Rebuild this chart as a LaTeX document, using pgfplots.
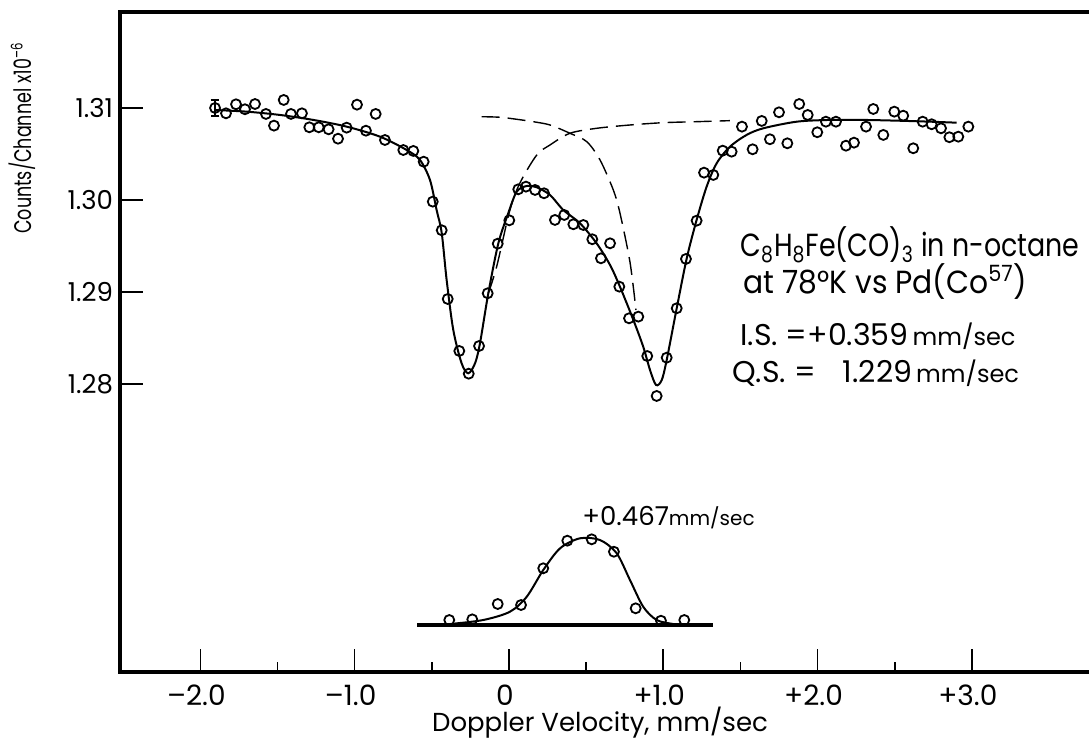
\documentclass[border=0pt]{standalone}
\usepackage{fontspec}
\setmainfont{Poppins}
\newfontfamily\narrowA[FakeStretch=0.84]{Poppins}
\newfontfamily\narrowC[FakeStretch=0.93]{Poppins}
\newfontfamily\narrowB[FakeStretch=0.73]{Poppins}
\usepackage{pgfplots}
\pgfplotsset{compat=1.18}
\begin{document}
\begin{tikzpicture}
\path[use as bounding box] (0,0) rectangle (544.5pt,369.5pt);
\begin{axis}[
  at={(60pt,33.5pt)}, anchor=south west,
  scale only axis, width=484.5pt, height=330pt,
  xmin=-2.521, xmax=3.759, ymin=1.2487, ymax=1.32043,
  clip=false,
  axis line style={draw=none},
  tick align=inside, tick pos=left,
  xtick={-2,-1,0,1,2,3},
  xticklabels={–2.0,–1.0,0,+1.0,+2.0,+3.0},
  minor xtick={-1.5,-0.5,0.5,1.5,2.5},
  ytick={1.28,1.29,1.30,1.31},
  yticklabels={1.28,1.29,1.30,1.31},
  major tick length=11.5pt, minor tick length=5pt,
  every tick/.style={black, line width=0.8pt},
  yticklabel style={font=\fontsize{13}{15}\selectfont},
  xticklabel style={font=\fontsize{14}{16}\selectfont, yshift=-3pt, xshift=-2pt},
  xlabel={Doppler Velocity, mm/sec},
  ylabel={Counts/Channel x10\textsuperscript{–6}},
  xlabel style={at={(rel axis cs:0.4954,-0.0770)}, anchor=center, inner sep=0pt,
    font=\fontsize{13}{15}\selectfont},
  ylabel style={at={(rel axis cs:-0.10114,0.809)}, anchor=center, inner sep=0pt,
    font=\narrowB\fontsize{12}{14}\selectfont},
]
% measured points, main spectrum
\addplot[only marks, mark=o, mark size=2.5pt, mark options={line width=0.9pt}] coordinates {
(-1.834,1.30942) (-1.769,1.31040) (-1.711,1.30986) (-1.646,1.31043) (-1.575,1.30935)
(-1.523,1.30808) (-1.460,1.31087) (-1.413,1.30935) (-1.342,1.30942) (-1.294,1.30790)
(-1.233,1.30790) (-1.169,1.30768) (-1.108,1.30666) (-1.052,1.30786) (-0.985,1.31036)
(-0.927,1.30753) (-0.864,1.30935) (-0.804,1.30652) (-0.685,1.30543) (-0.620,1.30533)
(-0.553,1.30416) (-0.494,1.29982) (-0.436,1.29671) (-0.397,1.28924) (-0.322,1.28359)
(-0.261,1.28112) (-0.194,1.28413) (-0.138,1.28986) (-0.073,1.29525) (0.002,1.29779)
(0.060,1.30116) (0.110,1.30145) (0.169,1.30109) (0.227,1.30073) (0.298,1.29783)
(0.358,1.29837) (0.417,1.29736) (0.482,1.29728) (0.540,1.29573) (0.596,1.29366)
(0.655,1.29529) (0.715,1.29058) (0.778,1.28714) (0.838,1.28732) (0.896,1.28304)
(0.957,1.27870) (1.022,1.28286) (1.087,1.28823) (1.147,1.29359) (1.216,1.29775)
(1.264,1.30297) (1.324,1.30272) (1.385,1.30536) (1.443,1.30525) (1.510,1.30797)
(1.579,1.30551) (1.638,1.30859) (1.691,1.30660) (1.750,1.30953) (1.804,1.30616)
(1.881,1.31043) (1.936,1.30924) (1.998,1.30736) (2.054,1.30851) (2.119,1.30851)
(2.184,1.30590) (2.236,1.30623) (2.314,1.30797) (2.361,1.30989) (2.426,1.30707)
(2.497,1.30960) (2.555,1.30916) (2.620,1.30562) (2.681,1.30851) (2.739,1.30823)
(2.800,1.30779) (2.854,1.30682) (2.912,1.30688) (2.977,1.30797)
};
% first point with error bar
\addplot[black, only marks, mark=o, mark size=2.5pt, mark options={line width=0.9pt},
  error bars/.cd, y dir=both, y explicit,
  error bar style={line width=0.9pt},
  error mark options={rotate=90, mark size=2.2pt, line width=0.9pt}]
  coordinates {(-1.905,1.3100) +- (0,0.0009)};
% fitted curve
\addplot[black, line width=1pt, smooth, tension=0.5] coordinates {
(-1.905,1.30978) (-1.700,1.30960) (-1.484,1.30924) (-1.268,1.30870) (-1.052,1.30797)
(-0.836,1.30688) (-0.663,1.30543) (-0.577,1.30435) (-0.512,1.30217) (-0.469,1.29891)
(-0.436,1.29641) (-0.404,1.29130) (-0.361,1.28587) (-0.307,1.28225) (-0.264,1.28116)
(-0.220,1.28225) (-0.188,1.28442) (-0.134,1.28986) (-0.069,1.29529) (-0.005,1.29855)
(0.050,1.30090) (0.115,1.30152) (0.180,1.30138) (0.266,1.30054) (0.352,1.29891)
(0.460,1.29747) (0.568,1.29529) (0.655,1.29293) (0.719,1.29058) (0.806,1.28696)
(0.870,1.28405) (0.914,1.28152) (0.953,1.27989) (0.990,1.28043) (1.022,1.28261)
(1.087,1.28823) (1.152,1.29366) (1.216,1.29783) (1.281,1.30145) (1.346,1.30399)
(1.432,1.30579) (1.540,1.30707) (1.648,1.30779) (1.865,1.30851) (2.080,1.30870)
(2.296,1.30870) (2.513,1.30862) (2.728,1.30851) (2.901,1.30840)
};
% component of the left line
\addplot[black, line width=0.7pt, dash pattern=on 9pt off 4pt, smooth, tension=0.5] coordinates {
(-0.134,1.28986) (-0.080,1.29275) (0.006,1.29891) (0.071,1.30185) (0.180,1.30489)
(0.266,1.30598) (0.395,1.30725) (0.568,1.30779) (0.784,1.30815) (0.998,1.30840)
(1.216,1.30851) (1.432,1.30862)
};
% component of the right line
\addplot[black, line width=0.7pt, dash pattern=on 9pt off 4pt, smooth, tension=0.5] coordinates {
(-0.177,1.30905) (-0.058,1.30899) (0.050,1.30877) (0.156,1.30851) (0.266,1.30815)
(0.395,1.30725) (0.504,1.30634) (0.590,1.30435) (0.676,1.30109) (0.719,1.29859)
(0.784,1.29326) (0.823,1.28804)
};
% lower spectrum
\addplot[black, line width=1.6pt] coordinates {(-0.596,1.2538) (1.322,1.2538)};
\addplot[black, line width=1pt, smooth, tension=0.5] coordinates {
(-0.45,1.2538) (-0.382,1.25391) (-0.167,1.25435) (0.006,1.25525) (0.115,1.25688)
(0.222,1.25978) (0.331,1.26214) (0.460,1.26323) (0.590,1.26304) (0.698,1.26160)
(0.784,1.25870) (0.870,1.25579) (0.957,1.25435) (1.065,1.25391) (1.13,1.2538)
};
\addplot[only marks, mark=o, mark size=2.5pt, mark options={line width=0.9pt}] coordinates {
(-0.387,1.25435) (-0.238,1.25442) (-0.073,1.25609) (0.078,1.25598) (0.222,1.25997)
(0.378,1.26297) (0.536,1.26312) (0.680,1.26177) (0.821,1.25562) (0.985,1.25427)
(1.136,1.25435)
};
% texts
\node[anchor=west, inner sep=0pt, font=\narrowA\fontsize{16}{18}\selectfont] at (axis cs:1.497,1.29511)
  {C\textsubscript{8}H\textsubscript{8}Fe(CO)\textsubscript{3} in n-octane};
\node[anchor=west, inner sep=0pt, font=\narrowC\fontsize{16}{18}\selectfont] at (axis cs:1.517,1.29112)
  {at 78°K vs Pd(Co\textsuperscript{57})};
\node[anchor=west, inner sep=0pt, font=\fontsize{15}{17}\selectfont] at (axis cs:1.497,1.28514)
  {I.S. =+0.359{\fontsize{12}{14}\selectfont\,mm/sec}};
\node[anchor=west, inner sep=0pt, font=\fontsize{15}{17}\selectfont] at (axis cs:1.445,1.28120)
  {Q.S. =\hspace{0.9em}1.229{\fontsize{12}{14}\selectfont\,mm/sec}};
\node[anchor=west, inner sep=0pt, font=\fontsize{13}{15}\selectfont] at (axis cs:0.473,1.26543)
  {+0.467{\fontsize{10}{12}\selectfont mm/sec}};
% frame: left, top, bottom
\draw[line width=2pt, line join=miter] (rel axis cs:1,1) -- (rel axis cs:0,1) -- (rel axis cs:0,0) -- (rel axis cs:1,0);
\end{axis}
\end{tikzpicture}
\end{document}
